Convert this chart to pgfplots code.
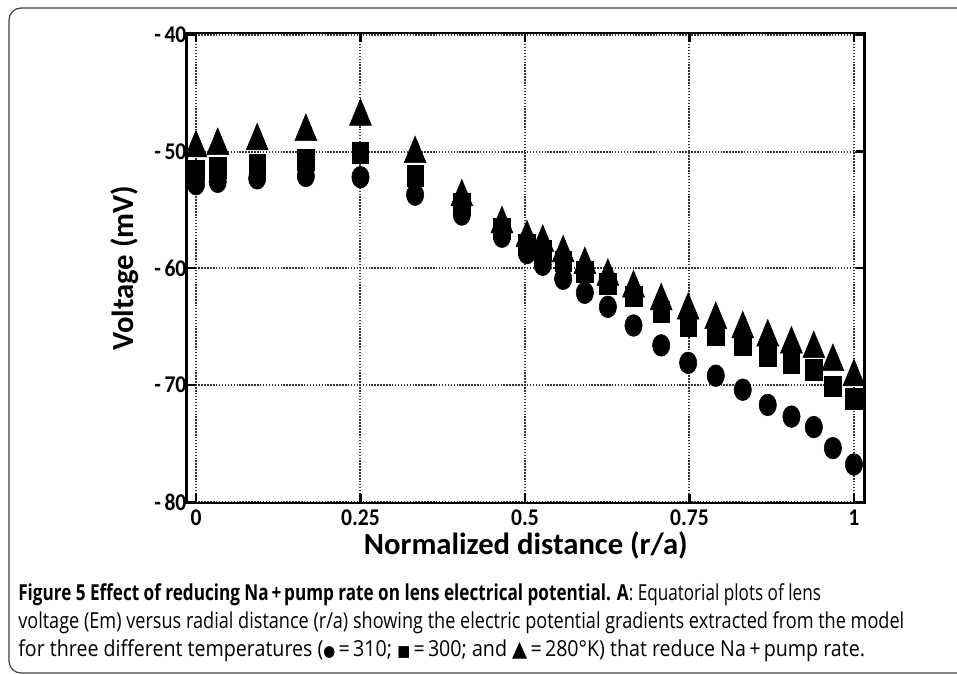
\documentclass[border=0pt]{standalone}
\usepackage{pgfplots}
\pgfplotsset{compat=1.18}
\usepackage{graphicx}
\usepackage{fontspec}
\setmainfont{Carlito}
\newfontfamily\capfont{Open Sans}

% x = normalized distance r/a; columns are the three temperatures
\pgfplotstableread{
x      c310   s300   t280
0.000  -52.8  -51.6  -49.7
0.033  -52.6  -51.4  -49.5
0.093  -52.3  -51.1  -49.1
0.167  -52.1  -50.7  -48.3
0.250  -52.2  -50.1  -47.0
0.333  -53.7  -52.1  -50.2
0.404  -55.4  -54.5  -53.9
0.465  -57.3  -56.6  -56.2
0.503  -58.7  -58.0  -57.4
0.527  -59.7  -58.5  -57.8
0.558  -60.9  -59.4  -58.7
0.591  -62.1  -60.3  -59.7
0.626  -63.3  -61.3  -60.7
0.665  -64.9  -62.4  -61.7
0.707  -66.6  -63.7  -62.8
0.748  -68.1  -64.9  -63.6
0.790  -69.2  -65.7  -64.4
0.831  -70.4  -66.6  -65.2
0.869  -71.7  -67.5  -65.9
0.905  -72.7  -68.1  -66.5
0.939  -73.6  -68.7  -66.9
0.968  -75.4  -70.1  -68.0
1.000  -76.8  -71.2  -69.3
}\lensdata

\begin{document}
\begin{tikzpicture}
\useasboundingbox (0,0) rectangle (717.75pt,505.5pt);
\draw[line width=0.9pt, black!75, rounded corners=9pt] (6.75pt,0.75pt) rectangle (760pt,499.5pt);

\begin{axis}[
    at={(140.0pt,128.25pt)}, anchor=south west,
    scale only axis,
    width=508.7pt, height=352.5pt,
    xmin=-0.0142, xmax=1.0167,
    ymin=-80.1, ymax=-39.85,
    xtick={0,0.25,0.5,0.75,1},
    xticklabels={0,0.25,0.5,0.75,1},
    ytick={-80,-70,-60,-50,-40},
    yticklabels={-\,80,-\,70,-\,60,-\,50,-\,40},
    ticklabel style={font=\bfseries\fontsize{18}{18}\selectfont},
    xticklabel style={inner sep=0pt, yshift=-5pt, xscale=0.9},
    yticklabel style={xshift=3pt, xscale=0.9},
    grid=major,
    major grid style={line width=1.5pt, black!80, dash pattern=on 1.1pt off 1.1pt},
    axis line style={line width=2.2pt},
    tick align=inside,
    major tick length=7pt,
    tick style={line width=1.8pt, black},
    xlabel={Normalized distance (r/a)},
    ylabel={Voltage (mV)},
    label style={font=\bfseries\fontsize{23}{24}\selectfont, inner sep=0pt},
    xlabel style={at={(axis description cs:0.5,-0.091)}, anchor=center},
    ylabel style={at={(axis description cs:-0.091,0.5)}, anchor=center},
    clip=false,
]
\addplot[only marks, mark=*, mark size=7.4pt, mark options={fill=black, draw=black, xscale=0.88, yscale=1.1}]
    table[x=x, y=c310] {\lensdata};
\addplot[only marks, mark=square*, mark size=6.2pt, mark options={fill=black, draw=black, yscale=1.25}]
    table[x=x, y=s300] {\lensdata};
\addplot[only marks, mark=triangle*, mark size=9.5pt, mark options={fill=black, draw=black, yscale=1.4}]
    table[x=x, y=t280] {\lensdata};
\end{axis}

\node[anchor=base west, inner sep=0pt] at (13.5pt,55pt) {\capfont\fontsize{16.5}{18}\selectfont
  \resizebox{602pt}{\height}{\textbf{Figure 5 Effect of reducing Na\,+\,pump rate on lens electrical potential. A}: Equatorial plots of lens}};
\node[anchor=base west, inner sep=0pt] at (13.5pt,34pt) {\capfont\fontsize{16.5}{18}\selectfont
  \resizebox{664.5pt}{\height}{voltage (Em) versus radial distance (r/a) showing the electric potential gradients extracted from the model}};
\node[anchor=base west, inner sep=0pt] at (13.5pt,13pt) {\capfont\fontsize{16.5}{18}\selectfont
  \resizebox{635pt}{\height}{for three different temperatures ({\fontspec{DejaVu Sans}\scalebox{0.7}{●}}\,=\,310; {\fontspec{DejaVu Sans}\scalebox{0.7}{■}}\,=\,300; and {\fontspec{DejaVu Sans}▲}\,=\,280°K) that reduce Na\,+\,pump rate.}};
\end{tikzpicture}
\end{document}
